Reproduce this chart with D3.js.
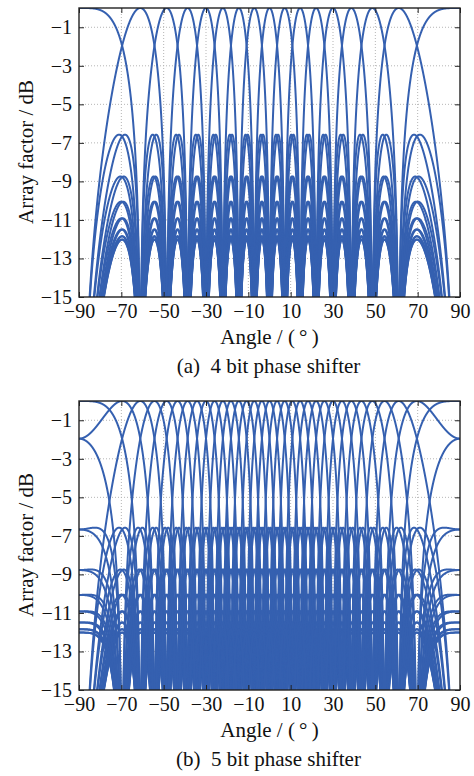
<!DOCTYPE html>
<html>
  <head>
    <meta charset="utf-8" />
    <script src="https://d3js.org/d3.v7.min.js"></script>
    <title>Array factor - 4 bit / 5 bit phase shifter</title>
    <style>
      body {
        margin: 0;
        background-color: white;
      }
      #canvas {
        display: block;
      }
    </style>
  </head>
  <body>
    <svg id="canvas" width="474" height="776"></svg>

    <script>
      // 16 element array, half wavelength spacing
      const elementCount = 16;

      // beam directions (sine of steering angle) of the two codebooks
      const beamSin4bit = [
        -1.0, -0.875, -0.75, -0.625, -0.5, -0.375, -0.25, -0.125, 0.0, 0.125,
        0.25, 0.375, 0.5, 0.625, 0.75, 0.875,
      ];
      const beamSin5bit = [
        -1.0, -0.9375, -0.875, -0.8125, -0.75, -0.6875, -0.625, -0.5625, -0.5,
        -0.4375, -0.375, -0.3125, -0.25, -0.1875, -0.125, -0.0625, 0.0, 0.0625,
        0.125, 0.1875, 0.25, 0.3125, 0.375, 0.4375, 0.5, 0.5625, 0.625, 0.6875,
        0.75, 0.8125, 0.875, 0.9375,
      ];

      const xTicks = [-90, -70, -50, -30, -10, 10, 30, 50, 70, 90];
      const yTicks = [-1, -3, -5, -7, -9, -11, -13, -15];

      const fontFamily = "'Liberation Serif', 'Times New Roman', serif";
      const lineColor = "#3560b0";

      const svg = d3.select("#canvas");

      // array factor (dB, 10*log10 |AF|) of one beam with quantized phases
      function beamCurve(s0, bits) {
        let step = (2 * Math.PI) / Math.pow(2, bits);
        let phases = [];
        for (let n = 0; n < elementCount; n++) {
          phases.push(Math.round((Math.PI * n * s0) / step) * step);
        }
        let pts = [];
        for (let i = 0; i <= 3600; i++) {
          let ang = -90 + i * 0.05;
          let u = Math.sin((ang * Math.PI) / 180);
          let re = 0,
            im = 0;
          for (let n = 0; n < elementCount; n++) {
            let p = Math.PI * n * u - phases[n];
            re += Math.cos(p);
            im += Math.sin(p);
          }
          let af = Math.sqrt(re * re + im * im) / elementCount;
          let db = 10 * Math.log10(Math.max(af, 1e-6));
          pts.push({ angle: ang, value: Math.max(db, -40) });
        }
        return pts;
      }

      function drawPanel(id, top, beams, bits, caption) {
        let left = 79,
          right = 460,
          bottom = top + 289;

        let xScale = d3.scaleLinear().domain([-90, 90]).range([left, right]);
        let yScale = d3.scaleLinear().domain([-15, 0]).range([bottom, top]);

        let g = svg.append("g").attr("id", id);

        g.append("clipPath")
          .attr("id", id + "-clip")
          .append("rect")
          .attr("x", left)
          .attr("y", top)
          .attr("width", right - left)
          .attr("height", bottom - top);

        // grid
        g.append("g")
          .selectAll("line")
          .data(xTicks.slice(1, -1))
          .enter()
          .append("line")
          .attr("x1", (d) => xScale(d))
          .attr("x2", (d) => xScale(d))
          .attr("y1", top)
          .attr("y2", bottom)
          .style("stroke", "#b5b5b5")
          .style("stroke-dasharray", "1,2");
        g.append("g")
          .selectAll("line")
          .data(yTicks.slice(0, -1))
          .enter()
          .append("line")
          .attr("x1", left)
          .attr("x2", right)
          .attr("y1", (d) => yScale(d))
          .attr("y2", (d) => yScale(d))
          .style("stroke", "#b5b5b5")
          .style("stroke-dasharray", "1,2");

        // curves
        let lineGenerator = d3
          .line()
          .x((d) => xScale(d.angle))
          .y((d) => yScale(d.value));

        g.append("g")
          .attr("clip-path", "url(#" + id + "-clip)")
          .selectAll("path")
          .data(beams.map((s) => beamCurve(s, bits)))
          .enter()
          .append("path")
          .attr("d", lineGenerator)
          .style("fill", "none")
          .style("stroke", lineColor)
          .style("stroke-width", "2px")
          .style("stroke-linejoin", "round");

        // axes, ticks pointing inward
        let xAxis = d3
          .axisBottom(xScale)
          .tickValues(xTicks)
          .tickSizeInner(-5)
          .tickSizeOuter(0)
          .tickPadding(7);
        let yAxis = d3
          .axisLeft(yScale)
          .tickValues(yTicks)
          .tickSizeInner(-5)
          .tickSizeOuter(0)
          .tickPadding(7);

        let xg = g
          .append("g")
          .attr("transform", "translate(0," + bottom + ")")
          .call(xAxis);
        let yg = g
          .append("g")
          .attr("transform", "translate(" + left + ",0)")
          .call(yAxis);
        let tg = g
          .append("g")
          .attr("transform", "translate(0," + top + ")")
          .call(d3.axisTop(xScale).tickValues(xTicks).tickSizeInner(-5).tickSizeOuter(0).tickFormat(""));
        let rg = g
          .append("g")
          .attr("transform", "translate(" + right + ",0)")
          .call(d3.axisRight(yScale).tickValues(yTicks).tickSizeInner(-5).tickSizeOuter(0).tickFormat(""));

        [xg, yg, tg, rg].forEach((a) => {
          a.select(".domain").remove();
          a.selectAll("line").style("stroke", "#222").style("stroke-width", "1px");
          a.attr("font-family", fontFamily)
            .attr("font-size", 20)
            .selectAll("text")
            .style("fill", "#111");
        });

        g.append("rect")
          .attr("x", left)
          .attr("y", top)
          .attr("width", right - left)
          .attr("height", bottom - top)
          .style("fill", "none")
          .style("stroke", "#222")
          .style("stroke-width", "1.4px");

        // labels
        g.append("text")
          .text("Array factor / dB")
          .attr("transform", "translate(33," + (top + 144) + ") rotate(-90)")
          .attr("text-anchor", "middle")
          .attr("font-family", fontFamily)
          .attr("font-size", 21)
          .style("fill", "#111");

        g.append("text")
          .text("Angle / (\u2009°\u2009)")
          .attr("x", (left + right) / 2)
          .attr("y", bottom + 47)
          .attr("text-anchor", "middle")
          .attr("font-family", fontFamily)
          .attr("font-size", 21)
          .style("fill", "#111");

        g.append("text")
          .text(caption)
          .attr("x", (left + right) / 2 - 1)
          .attr("y", bottom + 76)
          .attr("text-anchor", "middle")
          .attr("font-family", fontFamily)
          .attr("font-size", 21)
          .style("fill", "#111");
      }

      drawPanel("panelA", 8, beamSin4bit, 4, "(a)\u00a0\u00a04 bit phase shifter");
      drawPanel("panelB", 401, beamSin5bit, 5, "(b)\u00a0\u00a05 bit phase shifter");
    </script>
  </body>
</html>
